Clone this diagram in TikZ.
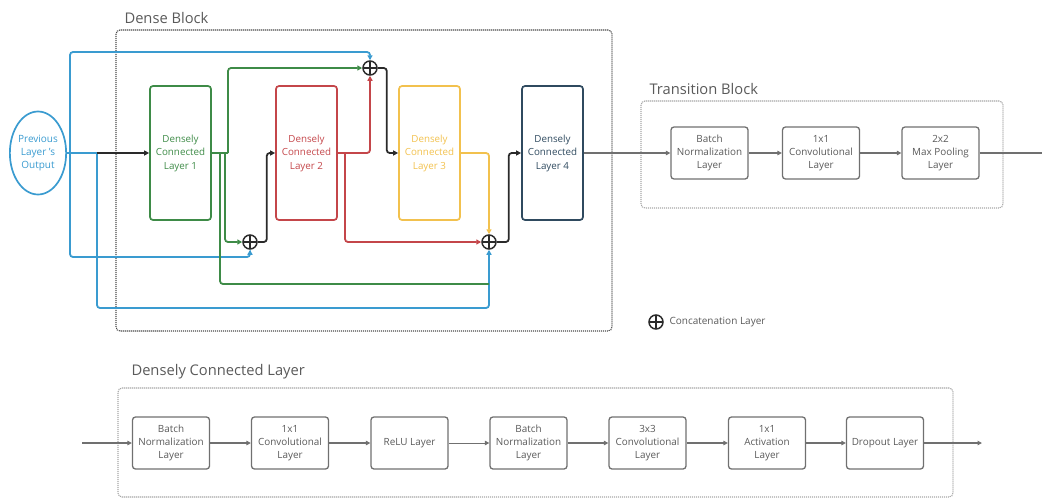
\documentclass[tikz,border=0pt]{standalone}
\usepackage{fontspec}
\setmainfont{Open Sans}
\usetikzlibrary{arrows.meta,shapes.geometric}

\definecolor{cblue}{HTML}{3A9BD0}
\definecolor{cgreen}{HTML}{3E8B47}
\definecolor{cred}{HTML}{C4464A}
\definecolor{cyellow}{HTML}{F2C14E}
\definecolor{cnavy}{HTML}{2F4A5F}
\definecolor{cgray}{HTML}{707070}
\definecolor{ctext}{HTML}{5A5A5A}
\definecolor{cdark}{HTML}{2A2A2A}

\tikzset{
  dcl/.style={draw, line width=1.7pt, rounded corners=3pt, minimum width=61pt,
    minimum height=134pt, align=center, inner sep=0pt,
    font=\fontsize{9.8}{13.5}\selectfont},
  opbox/.style={draw=cgray, line width=1.3pt, rounded corners=3pt, minimum width=77pt,
    minimum height=52pt, align=center, inner sep=0pt, text=ctext,
    font=\fontsize{9.9}{13.3}\selectfont},
  cat/.style={circle, draw=cdark, line width=1.5pt, minimum size=14pt, inner sep=0pt,
    path picture={\draw[cdark, line width=1.5pt]
      (path picture bounding box.north) -- (path picture bounding box.south)
      (path picture bounding box.west) -- (path picture bounding box.east);}},
  wire/.style={line width=1.8pt, rounded corners=3pt},
  gwire/.style={draw=cgray, line width=1.4pt},
  tipc/.style={-{Triangle[length=5pt,width=5pt]}},
  tipg/.style={-{Triangle[length=4.5pt,width=4.5pt]}},
  frame/.style={draw=#1, line width=1.1pt, dash pattern=on 1.1pt off 0.9pt,
    rounded corners=4pt, inner sep=0pt},
  title/.style={anchor=west, text=ctext, font=\fontsize{14.7}{17}\selectfont},
}

\begin{document}
\begin{tikzpicture}[x=1pt, y=-1pt]
\useasboundingbox (0,0) rectangle (1042,499);

% ---------- frames and titles ----------
\node[frame=cdark!85, minimum width=496pt, minimum height=301pt] (dense) at (364,180.5) {};
\node[title] (densetitle) at (121,18) {Dense Block};
\node[frame=gray!70, minimum width=362pt, minimum height=107pt] (trans) at (822,154.5) {};
\node[title] (transtitle) at (646,89) {Transition Block};
\node[frame=gray!70, minimum width=835pt, minimum height=109pt] (dclframe) at (535.5,442.5) {};
\node[title] (dcltitle) at (128,372) {Densely Connected Layer};

% ---------- dense block ----------
\node[ellipse, draw=cblue, line width=1.7pt, minimum width=53pt, minimum height=83pt,
  inner sep=0pt, align=center, text=cblue, font=\fontsize{10}{13}\selectfont]
  (prev) at (38,153) {Previous\\Layer 's\\Output};

\node[dcl, draw=cgreen, text=cgreen] (l1) at (180.5,153) {Densely\\Connected\\Layer 1};
\node[dcl, draw=cred, text=cred] (l2) at (306.5,153) {Densely\\Connected\\Layer 2};
\node[dcl, draw=cyellow, text=cyellow] (l3) at (429.5,153) {Densely\\Connected\\Layer 3};
\node[dcl, draw=cnavy, text=cnavy] (l4) at (552.5,153) {Densely\\Connected\\Layer 4};

\node[cat] (c1) at (250,242) {};
\node[cat] (c2) at (370,68) {};
\node[cat] (c3) at (489,242) {};

% junction points
\coordinate (j0) at (70,153);
\coordinate (j1) at (97,153);
\coordinate (g0) at (220,153);
\coordinate (g1) at (225,153);
\coordinate (g2) at (228,153);
\coordinate (gm) at (489,284);
\coordinate (r0) at (345,153);

% input skip connections
\draw[wire, cblue] (prev.east) -- (j1);
\draw[wire, cblue, tipc] (j0) -- (70,52) -| (c2.north);
\draw[wire, cblue, tipc] (j0) -- (70,257) -| (c1.south);
\draw[wire, cblue, tipc] (j1) -- (97,308) -| (c3.south);
\draw[wire, cdark, tipc] (j1) -- (l1.west);

% layer 1 outputs
\draw[wire, cgreen] (l1.east) -- (g2);
\draw[wire, cgreen, tipc] (g2) -- (228,68) -- (c2.west);
\draw[wire, cgreen, tipc] (g1) |- (c1.west);
\draw[wire, cgreen] (g0) |- (gm);

% concatenation 1 -> layer 2
\draw[wire, cdark, tipc] (c1.east) -- ++(9,0) |- (l2.west);

% layer 2 outputs
\draw[wire, cred, tipc] (l2.east) -| (c2.south);
\draw[wire, cred, tipc] (r0) |- (c3.west);

% concatenation 2 -> layer 3
\draw[wire, cdark, tipc] (c2.east) -- ++(9,0) |- (l3.west);

% layer 3 output
\draw[wire, cyellow, tipc] (l3.east) -| (c3.north);

% concatenation 3 -> layer 4
\draw[wire, cdark, tipc] (c3.east) -- ++(12,0) |- (l4.west);

% ---------- transition block ----------
\node[opbox] (t1) at (709.5,153) {Batch\\Normalization\\Layer};
\node[opbox] (t2) at (821,153) {1x1\\Convolutional\\Layer};
\node[opbox] (t3) at (940.5,153) {2x2\\Max Pooling\\Layer};
\coordinate (tout) at (1042,153);

\draw[gwire, tipg] (l4.east) -- (t1.west);
\draw[gwire, tipg] (t1.east) -- (t2.west);
\draw[gwire, tipg] (t2.east) -- (t3.west);
\draw[gwire] (t3.east) -- (tout);

% ---------- legend ----------
\node[cat] (legcat) at (656,322) {};
\node[anchor=west, text=ctext, font=\fontsize{10}{12}\selectfont] (legtext) at (666,322) {Concatenation Layer};

% ---------- densely connected layer ----------
\node[opbox] (b1) at (171,443) {Batch\\Normalization\\Layer};
\node[opbox] (b2) at (290,443) {1x1\\Convolutional\\Layer};
\node[opbox] (b3) at (409.5,443) {ReLU Layer};
\node[opbox] (b4) at (528.5,443) {Batch\\Normalization\\Layer};
\node[opbox] (b5) at (647.5,443) {3x3\\Convolutional\\Layer};
\node[opbox] (b6) at (767,443) {1x1\\Activation\\Layer};
\node[opbox] (b7) at (885,443) {Dropout Layer};
\coordinate (bin) at (82,443);
\coordinate (bout) at (982,443);

\draw[gwire, tipg] (bin) -- (b1.west);
\draw[gwire, tipg] (b1.east) -- (b2.west);
\draw[gwire, tipg] (b2.east) -- (b3.west);
\draw[gwire, line width=1pt, tipg] (b3.east) -- (b4.west);
\draw[gwire, tipg] (b4.east) -- (b5.west);
\draw[gwire, tipg] (b5.east) -- (b6.west);
\draw[gwire, tipg] (b6.east) -- (b7.west);
\draw[gwire, tipg] (b7.east) -- (bout);
\end{tikzpicture}
\end{document}
